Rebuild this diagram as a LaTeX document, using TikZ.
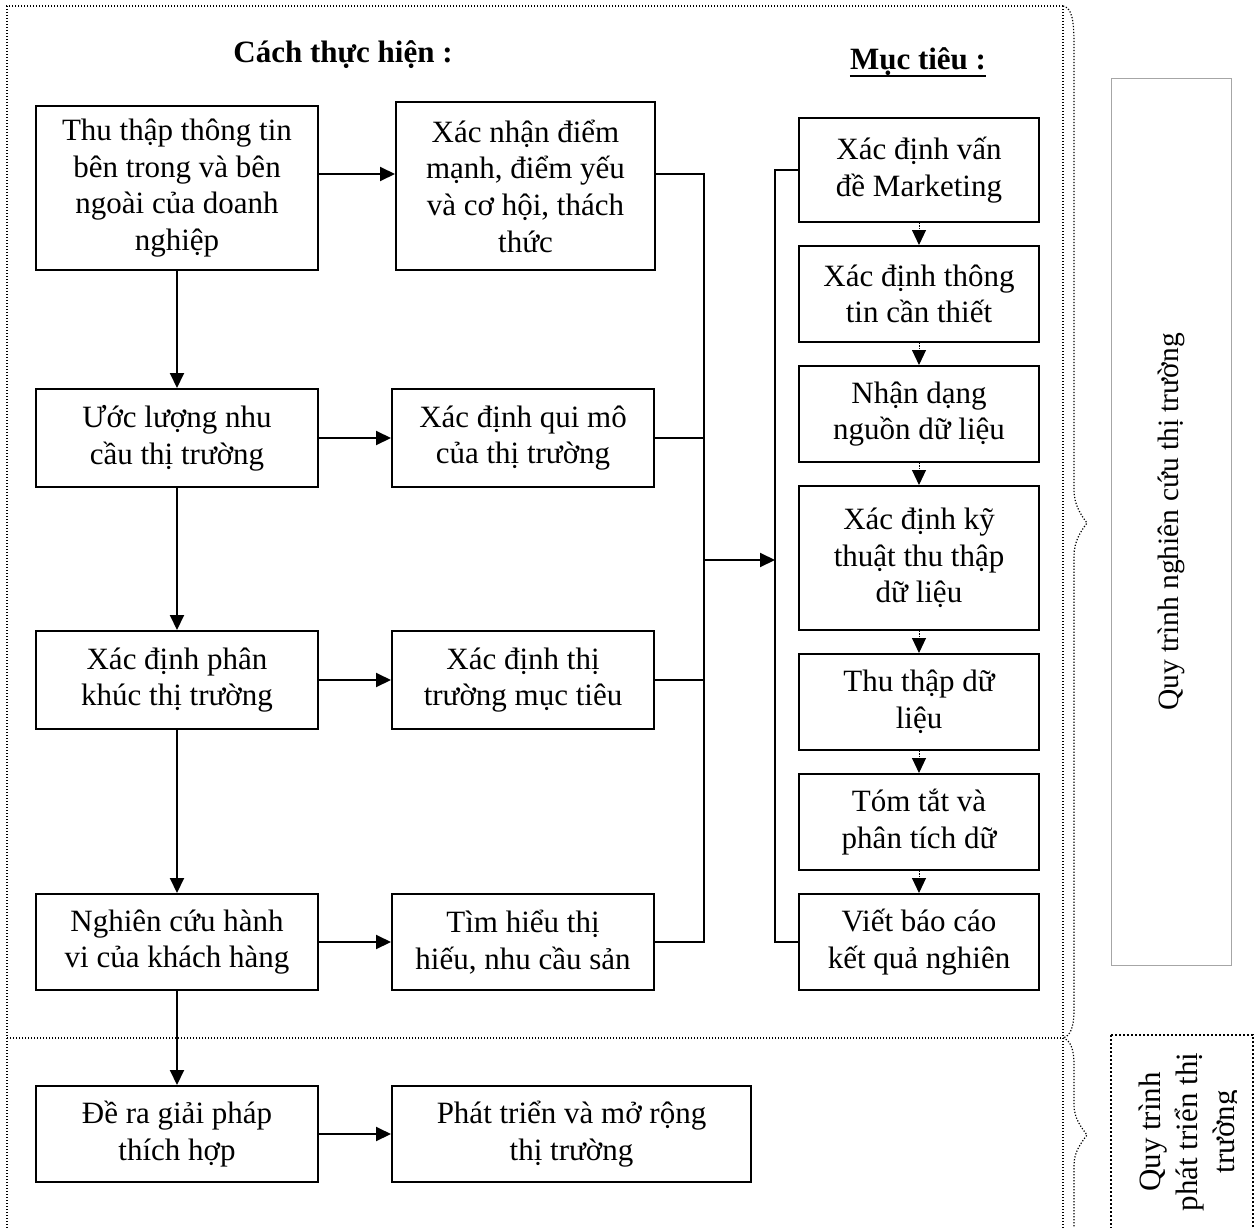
\documentclass[tikz,border=0pt]{standalone}
\usepackage{fontspec}
\setmainfont{Liberation Serif}
\usetikzlibrary{arrows.meta}

\begin{document}
\fontsize{31}{36.7}\selectfont
\begin{tikzpicture}[x=1pt,y=-1pt,
  box/.style={draw,line width=2pt,align=center,inner sep=0pt},
  link/.style={line width=2pt},
  arr/.style={link,-{Triangle[length=15pt,width=14pt]}},
  dotarr/.style={line width=1pt,dash pattern=on 1.2pt off 1.2pt,-{Triangle[length=15pt,width=14pt]}},
  frame/.style={line width=1.2pt,dash pattern=on 1.2pt off 1.8pt},
  dotbox/.style={line width=2pt,dash pattern=on 2pt off 2pt}]
\useasboundingbox (0,0) rectangle (1258,1228);
% outer frame and braces
\draw[frame] (1063,6) -- (7,6) -- (7,1228);
\draw[frame] (7,1038) -- (1063,1038);
\draw[frame] (1063,6) -- (1063,1228);
\draw[frame] (1063,6) .. controls (1072,8) and (1074,20) .. (1074,45) -- (1074,490)
  .. controls (1074,505) and (1081,515) .. (1087,523)
  .. controls (1081,531) and (1074,541) .. (1074,556) -- (1074,1010)
  .. controls (1074,1028) and (1070,1036) .. (1063,1038);
\draw[frame] (1063,1038) .. controls (1070,1040) and (1074,1048) .. (1074,1065) -- (1074,1105)
  .. controls (1074,1118) and (1081,1127) .. (1087,1135)
  .. controls (1081,1143) and (1074,1152) .. (1074,1165) -- (1074,1228);
% titles
\node[font=\bfseries,anchor=base,inner sep=0pt] (how) at (343,63) {Cách thực hiện :};
\node[font=\bfseries,anchor=base,inner sep=0pt] (goal) at (918,70) {Mục tiêu :};
\draw[line width=2.5pt] ([yshift=-6pt]goal.base west) -- ([yshift=-6pt]goal.base east);
% left column
\node[box,minimum width=282,minimum height=164] (B1) at (177,188) {Thu thập thông tin\\bên trong và bên\\ngoài của doanh\\nghiệp};
\node[box,minimum width=282,minimum height=98] (B2) at (177,438) {Ước lượng nhu\\cầu thị trường};
\node[box,minimum width=282,minimum height=98] (B3) at (177,680) {Xác định phân\\khúc thị trường};
\node[box,minimum width=282,minimum height=96] (B4) at (177,942) {Nghiên cứu hành\\vi của khách hàng};
\node[box,minimum width=282,minimum height=96] (B5) at (177,1134) {Đề ra giải pháp\\thích hợp};
% middle column
\node[box,minimum width=259,minimum height=168] (M1) at (525.5,186) {Xác nhận điểm\\mạnh, điểm yếu\\và cơ hội, thách\\thức};
\node[box,minimum width=262,minimum height=98] (M2) at (523,438) {Xác định qui mô\\của thị trường};
\node[box,minimum width=262,minimum height=98] (M3) at (523,680) {Xác định thị\\trường mục tiêu};
\node[box,minimum width=262,minimum height=96] (M4) at (523,942) {Tìm hiểu thị\\hiếu, nhu cầu sản};
\node[box,minimum width=359,minimum height=96] (M6) at (571.5,1134) {Phát triển và mở rộng\\thị trường};
% right column
\node[box,minimum width=240,minimum height=104] (R1) at (919,170) {Xác định vấn\\đề Marketing};
\node[box,minimum width=240,minimum height=96] (R2) at (919,294) {Xác định thông\\tin cần thiết};
\node[box,minimum width=240,minimum height=96] (R3) at (919,414) {Nhận dạng\\nguồn dữ liệu};
\node[box,minimum width=240,minimum height=144] (R4) at (919,558) {Xác định kỹ\\thuật thu thập\\dữ liệu};
\node[box,minimum width=240,minimum height=96] (R5) at (919,702) {Thu thập dữ\\liệu};
\node[box,minimum width=240,minimum height=96] (R6) at (919,822) {Tóm tắt và\\phân tích dữ};
\node[box,minimum width=240,minimum height=96] (R7) at (919,942) {Viết báo cáo\\kết quả nghiên};
% side labels
\node[draw=gray!70,line width=1pt,rotate=90,minimum width=886,minimum height=120,inner sep=0pt,
  font=\fontsize{29.5}{35}\selectfont] (lbl) at (1171,522) {Quy trình nghiên cứu thị trường};
\draw[dotbox] (1111,1035) rectangle (1253,1240);
\begin{scope}
\clip (1111,1035) rectangle (1236,1228);
\node[rotate=90,align=center,inner sep=0pt] (lbl2) at (1190,1132) {Quy trình\\phát triển thị\\trường};
\end{scope}
% connectors
\coordinate (r1) at (0,174);
\coordinate (bus) at (704,560);
\coordinate (brk) at (775,560);
\foreach \a/\b in {B1/B2,B2/B3,B3/B4,B4/B5} \draw[arr] (\a) -- (\b);
\draw[arr] (B1.east |- r1) -- (M1.west |- r1);
\foreach \a/\b in {B2/M2,B3/M3,B4/M4,B5/M6} \draw[arr] (\a) -- (\b);
\draw[link] (M1.east |- r1) -| (bus) |- (M4.east);
\draw[link] (M2.east) -- (M2.east -| bus);
\draw[link] (M3.east) -- (M3.east -| bus);
\draw[arr] (bus) -- (brk);
\draw[link] (R1.west) -| (brk) |- (R7.west);
\foreach \a/\b in {R1/R2,R2/R3,R3/R4,R4/R5,R5/R6,R6/R7} \draw[dotarr] (\a) -- (\b);
\end{tikzpicture}
\end{document}
